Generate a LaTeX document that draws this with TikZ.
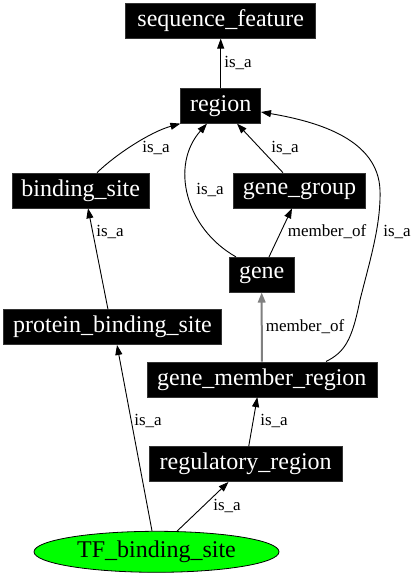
\documentclass[tikz,border=0pt]{standalone}
\usepackage{fontspec}
\setmainfont{Liberation Serif}
\usetikzlibrary{arrows.meta,calc,shapes.geometric}
\tikzset{
  termbox/.style={rectangle, fill=black, draw=black!80, line width=0.6pt, text=white, inner sep=0pt,
    font=\fontsize{24}{28}\selectfont, minimum height=35pt},
  tfnode/.style={ellipse, fill=green, draw=black, line width=0.8pt, inner sep=0pt,
    font=\fontsize{24}{28}\selectfont, minimum width=245pt, minimum height=41pt},
  elabel/.style={font=\fontsize{17}{20}\selectfont, inner sep=0pt},
  edge/.style={draw=black, line width=0.9pt, -{Triangle[length=10pt,width=7pt]}},
  grayedge/.style={draw=black!50, line width=2pt, -{Triangle[length=10pt,width=7.5pt]}, shorten >=0pt}
}
\begin{document}
\begin{tikzpicture}[x=1pt,y=-1pt]
\useasboundingbox[fill=white] (0,0) rectangle (415,576);

\node[termbox, minimum width=190pt] (sf) at (220.7,20.8) {sequence\_feature};
\node[termbox, minimum width=80pt] (region) at (220.7,105.8) {region};
\node[termbox, minimum width=137pt] (bs) at (80.7,190.5) {binding\_site};
\node[termbox, minimum width=132pt] (gg) at (299.5,190.5) {gene\_group};
\node[termbox, minimum width=65pt] (gene) at (261.7,274.7) {gene};
\node[termbox, minimum width=218pt] (pbs) at (112.5,327.2) {protein\_binding\_site};
\node[termbox, minimum width=230pt] (gmr) at (261.8,379.3) {gene\_member\_region};
\node[termbox, minimum width=193pt] (rr) at (245.7,464.2) {regulatory\_region};
\node[tfnode] (tf) at (156.5,551.8) {TF\_binding\_site};

% edges
\draw[edge] (region.north) -- (sf.south);
\draw[edge] ($(bs.north)+(16.3,0)$) .. controls (115,155) and (150,132) .. (region.south west);
\draw[edge] ($(gene.north)+(-25.7,0)$) .. controls (185,228) and (170,165) .. ($(region.south)+(-13.7,0)$);
\draw[edge] ($(gg.north)+(-16.5,0)$) -- ($(region.south)+(16.3,0)$);
\draw[edge] ($(gene.north)+(7.3,0)$) -- ($(gg.south)+(-7.5,0)$);
\draw[edge] ($(gmr.north)+(64.2,0)$) .. controls (345,352) and (352,340) .. (360,300)
  .. controls (370,260) and (381,225) .. (380,190)
  .. controls (378,140) and (320,122) .. ($(region.east)+(0,6.2)$);
\draw[grayedge] (gmr.north) -- (gene.south);
\draw[edge] ($(pbs.north)+(-4.5,0)$) -- ($(bs.south)+(7.3,0)$);
\draw[edge] ($(tf.north)+(-4.5,0)$) -- ($(pbs.south)+(4.5,0)$);
\draw[edge] ($(rr.north)+(3,0)$) -- ($(gmr.south)+(-4.5,0)$);
\draw[edge] ($(tf.north)+(20.5,0.3)$) -- ($(rr.south)+(-17.2,0)$);

% labels
\node[elabel] (l1) at (238,63) {is\_a};
\node[elabel] (l2) at (156,148) {is\_a};
\node[elabel] (l3) at (285,148) {is\_a};
\node[elabel] (l4) at (210,190) {is\_a};
\node[elabel] (l5) at (327,232) {member\_of};
\node[elabel] (l6) at (397,232) {is\_a};
\node[elabel] (l7) at (110,232) {is\_a};
\node[elabel] (l8) at (305,327) {member\_of};
\node[elabel] (l9) at (148,421) {is\_a};
\node[elabel] (l10) at (274,421) {is\_a};
\node[elabel] (l11) at (227,506) {is\_a};
\end{tikzpicture}
\end{document}
